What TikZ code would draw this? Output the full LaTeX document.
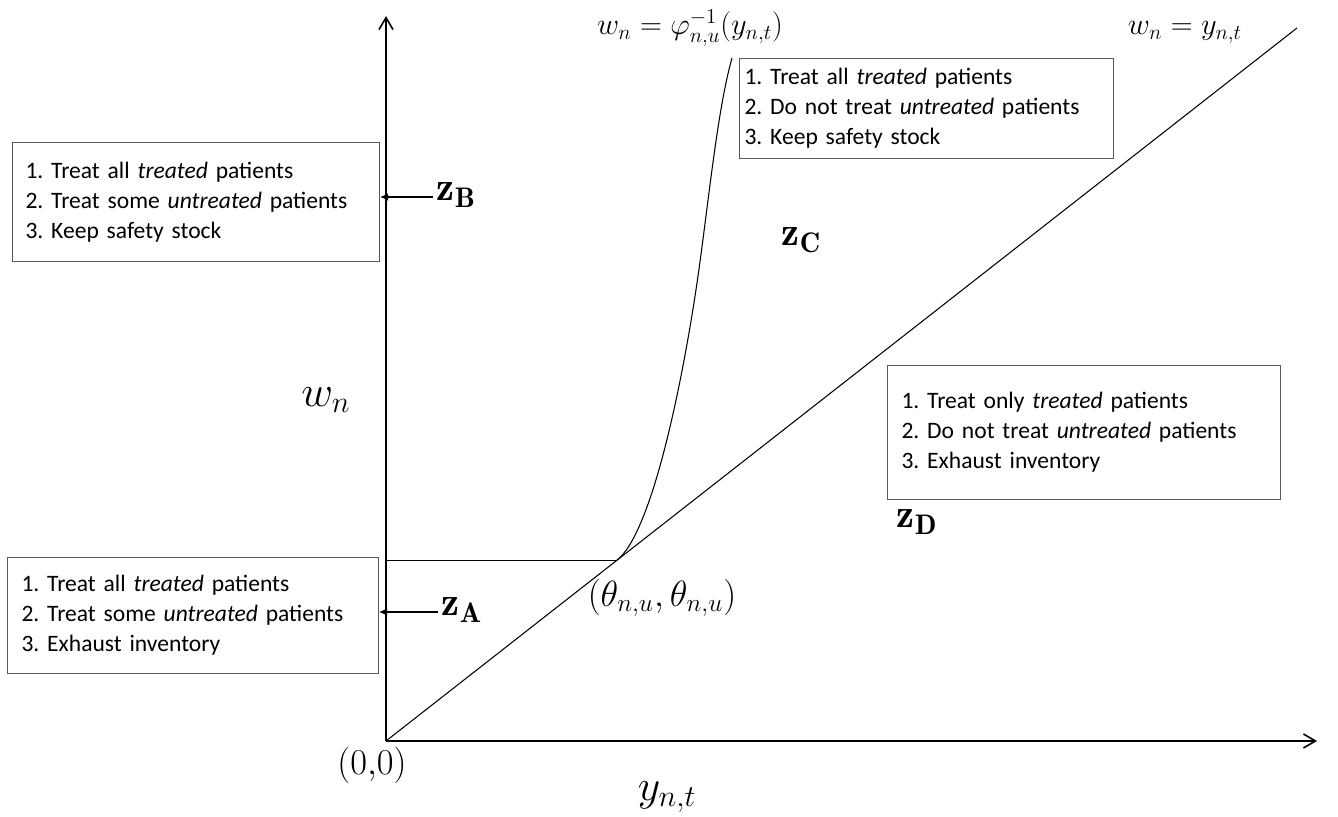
\documentclass[tikz,border=0pt]{standalone}
\usepackage{fontspec}
\newfontfamily\boxfont{Carlito}
\usetikzlibrary{arrows.meta, positioning, calc}

\begin{document}
\begin{tikzpicture}[
    policy/.style = {
        rectangle, draw=black!65, line width=0.6pt,
        anchor=north west, align=left,
        font=\boxfont\frenchspacing\fontsize{13.4}{17}\selectfont
    },
    zone/.style = {anchor=mid west, inner sep=2pt, font=\fontsize{23}{25}\selectfont},
    axis/.style = {-{Straight Barb[length=2.4mm, width=2.8mm]}, line width=0.9pt},
    curve/.style = {line width=0.6pt},
    pointer/.style = {-{Latex[length=1.6mm, width=1.5mm]}, line width=0.6pt},
    mlabel/.style = {font=\fontsize{18}{20}\selectfont, inner sep=1pt},
    biglabel/.style = {font=\fontsize{25}{27}\selectfont}
]
\useasboundingbox (-7.72,-1.52) rectangle (19.04,14.82);

% Axes
\coordinate (O) at (0,0);
\coordinate (ytip) at (0,14.5);
\coordinate (xtip) at (18.62,0);
\coordinate (dend) at (18.22,14.26);
\coordinate (T) at ($(O)!0.2536!(dend)$);
\coordinate (M) at (6.22,9.16);
\coordinate (ctop) at (6.92,13.66);

\draw[axis] (O) -- (ytip);
\draw[axis] (O) -- (xtip);

% Diagonal and threshold curve
\draw[curve] (O) -- (dend);
\draw[curve] (O |- T) -- (T);
\draw[curve] (T) .. controls (5.3,4.15) and (5.9,7.0) .. (M)
                 .. controls (6.44,10.66) and (6.62,12.6) .. (ctop);

% Axis and curve labels
\node[biglabel] (wn) at (-1.2,6.82) {$w_n$};
\node[biglabel] (ynt) at (5.62,-1.12) {$y_{n,t}$};
\node[mlabel, font=\fontsize{21}{23}\selectfont] (orig) at (-0.28,-0.48) {$(0{,}0)$};
\node[mlabel, font=\fontsize{21}{23}\selectfont] (theta) at (5.52,2.86)
    {$(\theta_{n,u},\theta_{n,u})$};
\node[mlabel, anchor=base] (phi) at (6.08,14.12)
    {$w_n=\varphi_{n,u}^{-1}(y_{n,t})$};
\node[mlabel, anchor=base] (diag) at (15.98,14.12) {$w_n=y_{n,t}$};

% Zones
\node[zone] (zB) at (0.94,10.88) {$\mathbf{z}_{\mathbf{B}}$};
\node[zone] (zA) at (1.04,2.58) {$\mathbf{z}_{\mathbf{A}}$};
\node[zone] (zC) at (7.84,9.98) {$\mathbf{z}_{\mathbf{C}}$};
\node[zone] (zD) at (10.14,4.34) {$\mathbf{z}_{\mathbf{D}}$};

% Box B
\node[policy, inner xsep=0.26cm, text width=6.82cm, minimum height=2.38cm]
    (boxB) at (-7.48,11.98)
    {1. Treat all \textit{treated} patients\\
     2. Treat some \textit{untreated} patients\\
     3. Keep safety stock};

% Box A
\node[policy, inner xsep=0.28cm, text width=6.86cm, minimum height=2.32cm]
    (boxA) at (-7.58,3.68)
    {1. Treat all \textit{treated} patients\\
     2. Treat some \textit{untreated} patients\\
     3. Exhaust inventory};

% Box C
\node[policy, inner xsep=0.1cm, text width=7.28cm, minimum height=2.0cm]
    (boxC) at (7.06,13.66)
    {1. Treat all \textit{treated} patients\\
     2. Do not treat \textit{untreated} patients\\
     3. Keep safety stock};

% Box D
\node[policy, inner xsep=0.28cm, text width=7.3cm, minimum height=2.68cm]
    (boxD) at (10.02,7.52)
    {1. Treat only \textit{treated} patients\\
     2. Do not treat \textit{untreated} patients\\
     3. Exhaust inventory};

% Pointers
\draw[pointer] (zB.mid west) -- (zB.mid west -| boxB.east);
\draw[pointer] (zA.mid west) -- (zA.mid west -| boxA.east);

\end{tikzpicture}
\end{document}
